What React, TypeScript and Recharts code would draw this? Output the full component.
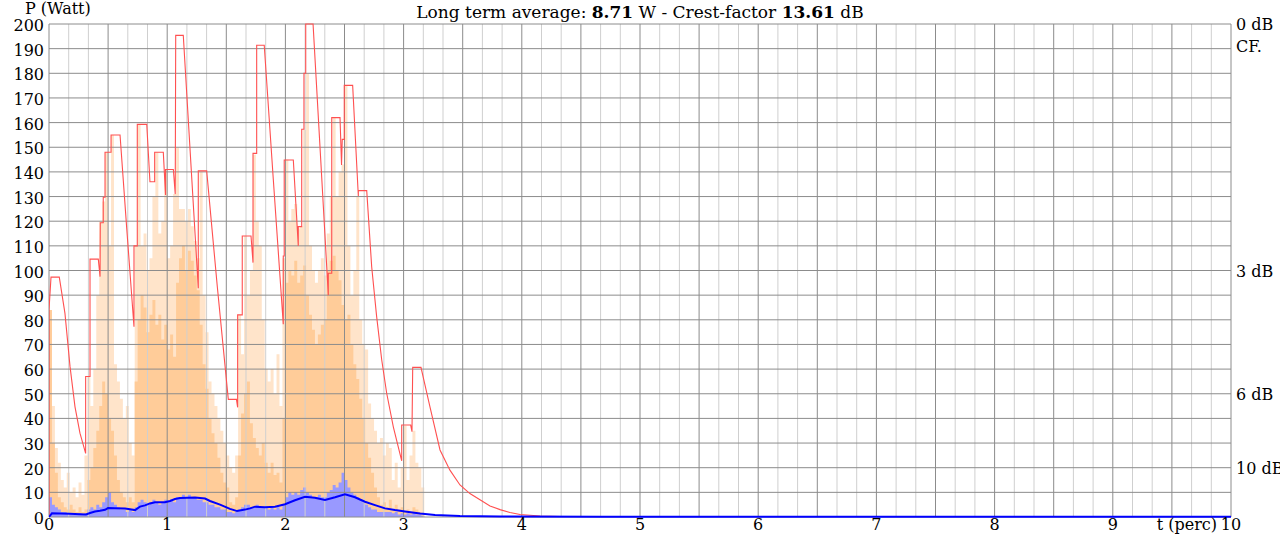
import { ComposedChart, Area, Line, XAxis, YAxis, ReferenceLine } from "recharts";

// sample spacing of the power trace (t units)
const STEP = 0.025;

// thin peak spikes (pale orange)
const peakW = [
  84, 45, 28, 22, 15, 12, 18, 10, 12, 8,
  14, 9, 25, 57, 45, 60, 90, 120, 128, 148,
  110, 155, 62, 55, 48, 40, 45, 30, 25, 110,
  159, 110, 115, 100, 105, 130, 148, 115, 120, 141,
  105, 110, 131, 150, 125, 125, 120, 125, 118, 112,
  105, 140, 90, 75, 55, 50, 45, 40, 35, 30,
  25, 20, 18, 25, 82, 66, 114, 90, 100, 147,
  120, 110, 80, 60, 55, 60, 50, 66, 45, 105,
  145, 120, 125, 127, 117, 118, 157, 180, 110, 100,
  95, 100, 105, 98, 115, 130, 162, 130, 140, 143,
  175, 110, 90, 100, 130, 80, 70, 68, 46, 40,
  35, 30, 32, 25, 30, 28, 15, 22, 12, 20,
  37, 15, 25, 35, 22, 20, 12, 0,
];

// dense body of the power trace (orange)
const bodyW = [
  84, 30, 18, 8, 6, 4, 3, 5, 3, 2,
  4, 2, 3, 15, 20, 28, 35, 45, 55, 50,
  40, 35, 25, 15, 10, 8, 6, 8, 6, 55,
  80, 90, 85, 75, 82, 88, 78, 82, 72, 78,
  68, 74, 65, 95, 105, 110, 100, 108, 104, 98,
  92, 78, 62, 52, 40, 34, 30, 24, 18, 14,
  12, 6, 5, 8, 25, 42, 50, 55, 38, 32,
  28, 25, 30, 22, 18, 22, 17, 18, 14, 40,
  95, 100, 98, 104, 95, 98, 102, 90, 82, 76,
  70, 74, 78, 80, 100, 104, 106, 100, 96, 86,
  80, 82, 70, 62, 56, 48, 40, 30, 24, 18,
  12, 8, 5, 6, 4, 7, 3, 5, 3, 4,
  2, 3, 2, 4, 3, 2, 1, 0,
];

// short term rms (light blue)
const rmsW = [
  8, 5, 4, 3, 2, 2, 1.5, 1.5, 1, 1,
  1.5, 1, 1.5, 3, 4, 3, 5, 4, 6, 8,
  10, 6, 5, 4, 3, 3, 2, 3, 2, 4,
  6, 7, 6, 5, 6, 7, 6, 5, 6, 7,
  6, 7, 6, 8, 8, 9, 8, 9, 8, 8,
  7, 7, 6, 6, 5, 5, 4, 4, 3, 3,
  2, 2, 1.5, 2, 3, 4, 5, 5, 4, 4,
  5, 4, 4, 4, 3, 4, 3, 4, 3, 5,
  8, 10, 9, 10, 9, 11, 12, 10, 9, 8,
  8, 9, 8, 8, 10, 11, 13, 12, 14, 18,
  15, 12, 10, 9, 8, 7, 6, 5, 4, 3,
  3, 2, 2, 2, 2, 2, 1.5, 2, 1, 1.5,
  1, 1.5, 1, 1.5, 1, 1, 0.5, 0,
];

// peak hold (red)
const holdT = [
  0, 0, 0.017, 0.087, 0.135, 0.178, 0.22, 0.262, 0.31, 0.31, 0.347,
  0.347, 0.417, 0.432, 0.434, 0.459, 0.459, 0.474, 0.474, 0.525, 0.525,
  0.601, 0.657, 0.719, 0.719, 0.747, 0.747, 0.827, 0.854, 0.894, 0.894,
  0.967, 0.986, 0.986, 1.052, 1.068, 1.072, 1.136, 1.263, 1.263, 1.334,
  1.424, 1.517, 1.586, 1.596, 1.596, 1.635, 1.635, 1.709, 1.726, 1.726,
  1.757, 1.757, 1.821, 1.898, 1.982, 1.982, 1.99, 1.99, 2.067, 2.109,
  2.109, 2.138, 2.138, 2.157, 2.157, 2.172, 2.172, 2.234, 2.299, 2.363,
  2.363, 2.392, 2.392, 2.462, 2.475, 2.481, 2.498, 2.498, 2.569, 2.617,
  2.617, 2.688, 2.73, 2.772, 2.815, 2.857, 2.913, 2.984, 2.984, 3.06,
  3.071, 3.077, 3.147, 3.223, 3.308, 3.392, 3.477, 3.561, 3.646, 3.731,
  3.816, 3.9, 3.985, 4.154, 4.323,
];
const holdW = [
  0, 84, 97.3, 97.3, 82.6, 61, 44.7, 34, 25.8, 57, 57,
  104.6, 104.6, 97.5, 119.4, 119.4, 129.7, 129.7, 148, 148, 155,
  155, 117.5, 77.2, 110, 110, 159.3, 159.3, 136, 136, 148,
  148, 130.6, 141, 141, 131, 195.4, 195.4, 92.8, 140.4, 140.4,
  93.4, 47.7, 47.7, 44.5, 82, 82, 114, 114, 103.2, 147.5,
  147.5, 191.4, 191.4, 136.7, 78.2, 105.9, 105.9, 144.8, 144.8, 110,
  117.8, 117.8, 157.3, 157.3, 180, 180, 200, 200, 144.8, 90,
  98.9, 98.9, 162, 162, 142.8, 153.2, 153.2, 175.1, 175.1, 130.2,
  132.4, 132.4, 101.5, 81.3, 63.7, 50.2, 36.6, 22.8, 37.3, 37.3,
  34.6, 60.7, 60.7, 44.7, 27.2, 19, 13, 9.5, 7, 4.5,
  3, 1.8, 1, 0.4, 0.2,
];

// long term average (blue line)
const avgT = [
  0, 0.025, 0.093, 0.178, 0.262, 0.313, 0.347, 0.389, 0.431, 0.474,
  0.499, 0.558, 0.643, 0.685, 0.728, 0.77, 0.812, 0.854, 0.897, 0.981,
  1.024, 1.066, 1.108, 1.235, 1.32, 1.362, 1.447, 1.531, 1.591, 1.658,
  1.701, 1.743, 1.827, 1.912, 1.997, 2.081, 2.166, 2.25, 2.335, 2.42,
  2.504, 2.589, 2.673, 2.758, 2.843, 2.927, 3.012, 3.139, 3.266, 3.477,
  3.816, 4.662, 10,
];
const avgW = [
  0, 1.5, 1.4, 1.3, 1.1, 1.0, 1.6, 2.2, 2.5, 2.9,
  3.6, 3.5, 3.4, 3.1, 2.8, 4.2, 4.7, 5.5, 6.0, 6.0,
  6.5, 7.3, 7.7, 7.9, 7.5, 6.5, 5.0, 3.3, 2.4, 3.0,
  3.5, 4.2, 4.0, 4.2, 5.2, 6.8, 8.2, 7.8, 6.9, 8.0,
  9.2, 8.0, 6.2, 4.8, 3.5, 2.8, 2.2, 1.4, 0.8, 0.4,
  0.2, 0.1, 0.1,
];

const xTicks = [0, 1, 2, 3, 4, 5, 6, 7, 8, 9, 10];
const yTicks = [0, 10, 20, 30, 40, 50, 60, 70, 80, 90, 100, 110, 120, 130, 140, 150, 160, 170, 180, 190, 200];
const dbTicks = [200, 100, 50, 20];
const dbLabels = ["0 dB", "3 dB", "6 dB", "10 dB"];

const traceData = bodyW.map((b, i) => ({ t: i * STEP, body: b, peak: peakW[i], rms: rmsW[i] }));
const holdData = holdT.map((t, i) => ({ t, hold: holdW[i] }));
const avgData = avgT.map((t, i) => ({ t, avg: avgW[i] }));

const vGrid = Array.from({ length: 61 }, (_, k) => k);

const FONT = '"DejaVu Serif", "Liberation Serif", serif';

function XTick({ x, y, payload }: any) {
  return (
    <g>
      <text x={x} y={y} dy={12} textAnchor="middle" style={{ fontFamily: FONT }} fontSize={16} fill="#000">
        {payload.value}
      </text>
      {payload.value === 10 && (
        <text x={x - 14} y={y} dy={12} textAnchor="end" style={{ fontFamily: FONT }} fontSize={16} fill="#000">
          t (perc)
        </text>
      )}
    </g>
  );
}

function YTick({ x, y, payload }: any) {
  return (
    <text x={x} y={y} dy={7} textAnchor="end" style={{ fontFamily: FONT }} fontSize={16} fill="#000">
      {payload.value}
    </text>
  );
}

function DbTick({ x, y, payload }: any) {
  const label = dbLabels[dbTicks.indexOf(payload.value)];
  return (
    <text x={x} y={y} dy={6} textAnchor="start" style={{ fontFamily: FONT }} fontSize={16} fill="#000">
      {label}
    </text>
  );
}

export default function App() {
  return (
    <div style={{ position: "absolute", left: 0, top: 0, width: 1280, height: 541, background: "#fff", fontFamily: FONT }}>
      <ComposedChart width={1280} height={541} data={traceData} margin={{ top: 24, right: 0, left: 0, bottom: 0 }}>
        <XAxis
          type="number"
          dataKey="t"
          domain={[0, 10]}
          ticks={xTicks}
          tick={<XTick />}
          tickLine={false}
          axisLine={false}
          height={24}
          tickSize={0}
          tickMargin={1}
          allowDataOverflow
        />
        <YAxis
          yAxisId="w"
          domain={[0, 200]}
          ticks={yTicks}
          tick={<YTick />}
          tickLine={false}
          axisLine={false}
          width={49}
          tickSize={3}
          tickMargin={2}
          interval={0}
        />
        <YAxis
          yAxisId="db"
          orientation="right"
          domain={[0, 200]}
          ticks={dbTicks}
          tick={<DbTick />}
          tickLine={false}
          axisLine={false}
          width={49}
          tickSize={3}
          tickMargin={2}
          interval={0}
          allowDataOverflow
        />
        <Area yAxisId="w" type="stepAfter" dataKey="peak" stroke="none" fill="#ffe4ca" fillOpacity={1} isAnimationActive={false} />
        <Area yAxisId="w" type="stepAfter" dataKey="body" stroke="none" fill="#ffcc99" fillOpacity={1} isAnimationActive={false} />
        <Area yAxisId="w" type="stepAfter" dataKey="rms" stroke="none" fill="#9999ff" fillOpacity={1} isAnimationActive={false} />
        <Line yAxisId="db" type="stepAfter" dataKey="rms" stroke="transparent" dot={false} activeDot={false} isAnimationActive={false} />
        {vGrid.map((k) => (
          <ReferenceLine
            key={"v" + k}
            yAxisId="w"
            x={k / 6}
            stroke={k % 3 === 0 ? "#8c8c8c" : "#cfcfcf"}
            strokeWidth={1}
          />
        ))}
        {yTicks.map((v) => (
          <ReferenceLine key={"h" + v} yAxisId="w" y={v} stroke="#8c8c8c" strokeWidth={1} />
        ))}
        <Line yAxisId="w" data={holdData} type="linear" dataKey="hold" stroke="#ff5050" strokeWidth={1.1} dot={false} activeDot={false} isAnimationActive={false} />
        <Line yAxisId="w" data={avgData} type="linear" dataKey="avg" stroke="#0000ff" strokeWidth={2} dot={false} activeDot={false} isAnimationActive={false} />
      </ComposedChart>
      <div style={{ position: "absolute", left: 25, top: -1, fontSize: 16, lineHeight: "20px" }}>P (Watt)</div>
      <div style={{ position: "absolute", left: 0, width: 1280, top: 2, fontSize: 17, lineHeight: "20px", textAlign: "center" }}>
        Long term average: <b>8.71</b> W - Crest-factor <b>13.61</b> dB
      </div>
      <div style={{ position: "absolute", left: 1236, top: 37, fontSize: 16, lineHeight: "20px" }}>CF.</div>
    </div>
  );
}
